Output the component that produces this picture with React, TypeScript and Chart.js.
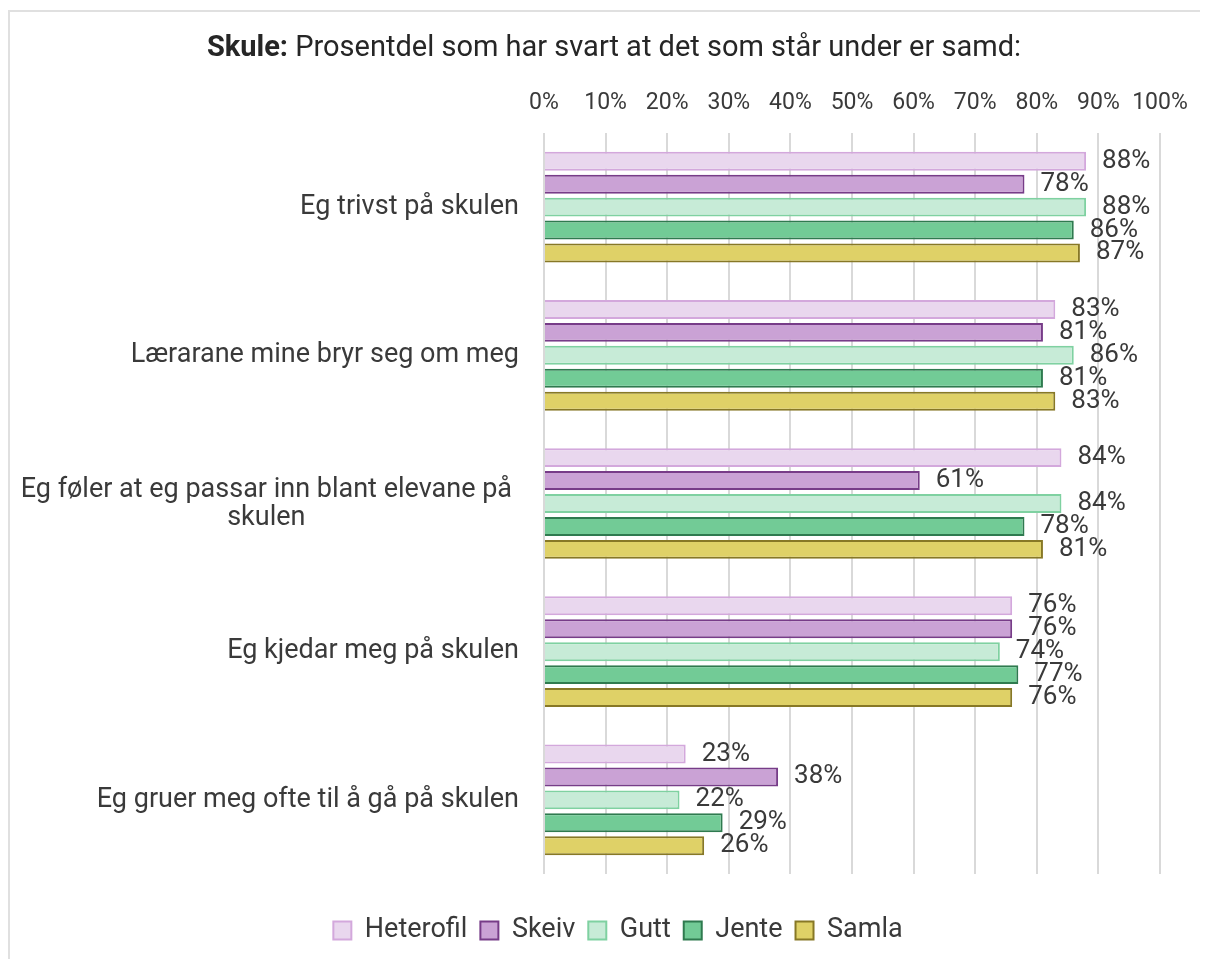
import React, { useEffect, useRef } from "react";
import { Chart, registerables } from "chart.js";

Chart.register(...registerables);

const categories: (string | string[])[] = [
  "Eg trivst på skulen",
  "Lærarane mine bryr seg om meg",
  ["Eg føler at eg passar inn blant elevane på", "skulen"],
  "Eg kjedar meg på skulen",
  "Eg gruer meg ofte til å gå på skulen",
];

const heterofil = [88, 83, 84, 76, 23];
const skeiv = [78, 81, 61, 76, 38];
const gutt = [88, 86, 84, 74, 22];
const jente = [86, 81, 78, 77, 29];
const samla = [87, 83, 81, 76, 26];

const xTicks = [0, 10, 20, 30, 40, 50, 60, 70, 80, 90, 100];

const titleBold = "Skule:";
const titleRest = " Prosentdel som har svart at det som står under er samd:";

const FONT = "Roboto";
const TEXT = "#3a3a3a";

const titlePlugin = {
  id: "mixedTitle",
  afterDraw(chart: any) {
    const ctx = chart.ctx;
    ctx.save();
    ctx.textBaseline = "middle";
    ctx.fillStyle = "#262626";
    ctx.font = `bold 29px ${FONT}`;
    const wb = ctx.measureText(titleBold).width;
    ctx.font = `29px ${FONT}`;
    const wr = ctx.measureText(titleRest).width;
    const cx = chart.width / 2 + 5;
    const x0 = cx - (wb + wr) / 2;
    const y = 37;
    ctx.textAlign = "left";
    ctx.font = `bold 29px ${FONT}`;
    ctx.fillText(titleBold, x0, y);
    ctx.font = `29px ${FONT}`;
    ctx.fillText(titleRest, x0 + wb, y);
    ctx.restore();
  },
};

const yLabelPlugin = {
  id: "yLabels",
  afterDraw(chart: any) {
    const ctx = chart.ctx;
    const yScale = chart.scales.y;
    const right = chart.chartArea.left - 25;
    ctx.save();
    ctx.font = `27px ${FONT}`;
    ctx.fillStyle = TEXT;
    ctx.textBaseline = "middle";
    categories.forEach((lab, i) => {
      const lines = Array.isArray(lab) ? lab : [lab];
      const y = yScale.getPixelForValue(i);
      const lh = 28;
      if (lines.length === 1) {
        ctx.textAlign = "right";
        ctx.fillText(lines[0], right, y);
      } else {
        const maxW = Math.max(...lines.map((l) => ctx.measureText(l).width));
        const c = right - 7 - maxW / 2;
        ctx.textAlign = "center";
        lines.forEach((l, j) => {
          ctx.fillText(l, c, y + 1 + (j - (lines.length - 1) / 2) * lh);
        });
      }
    });
    ctx.restore();
  },
};

const valueLabelPlugin = {
  id: "valueLabels",
  afterDatasetsDraw(chart: any) {
    const ctx = chart.ctx;
    ctx.save();
    ctx.font = `26px ${FONT}`;
    ctx.fillStyle = TEXT;
    ctx.textBaseline = "middle";
    ctx.textAlign = "left";
    chart.data.datasets.forEach((ds: any, di: number) => {
      const meta = chart.getDatasetMeta(di);
      meta.data.forEach((el: any, i: number) => {
        ctx.fillText(`${ds.data[i]}%`, el.x + 16, el.y);
      });
    });
    ctx.restore();
  },
};

export default function App() {
  const ref = useRef<HTMLCanvasElement>(null);
  useEffect(() => {
    if (!ref.current) return;
    const mk = (label: string, data: number[], bg: string, bd: string) => ({
      label,
      data,
      backgroundColor: bg,
      borderColor: bd,
      borderWidth: 2,
      categoryPercentage: 0.774,
      barPercentage: 0.826,
    });
    const chart = new Chart(ref.current, {
      type: "bar",
      data: {
        labels: categories as any,
        datasets: [
          mk("Heterofil", heterofil, "#e9d7ee", "#d3a8dc"),
          mk("Skeiv", skeiv, "#caa2d5", "#773c88"),
          mk("Gutt", gutt, "#c7ebd7", "#7fd1a1"),
          mk("Jente", jente, "#72cb96", "#2f7a4f"),
          mk("Samla", samla, "#dfd167", "#877826"),
        ] as any,
      },
      options: {
        indexAxis: "y",
        responsive: false,
        animation: false,
        layout: { padding: { top: 71, right: 48, left: 66, bottom: 7 } },
        scales: {
          x: {
            position: "top",
            min: 0,
            max: 100,
            afterBuildTicks: (s: any) => {
              s.ticks = xTicks.map((v) => ({ value: v }));
            },
            afterFit: (s: any) => {
              s.height = 50;
            },
            ticks: {
              callback: (v: any) => `${v}%`,
              font: { family: FONT, size: 23 },
              color: TEXT,
              padding: 16,
              maxRotation: 0,
              minRotation: 0,
              autoSkip: false,
            },
            grid: { color: "#d9d9d9", lineWidth: 2, drawTicks: false },
            border: { display: false },
          },
          y: {
            afterFit: (s: any) => {
              s.width = 468;
            },
            ticks: { display: false },
            grid: { display: false },
            border: { display: false },
          },
        },
        plugins: {
          title: { display: false },
          tooltip: { enabled: false },
          legend: {
            position: "bottom",
            title: { display: true, text: " ", padding: 9, font: { size: 10 } },
            labels: {
              font: { family: FONT, size: 27 },
              color: TEXT,
              boxWidth: 18,
              boxHeight: 18,
              padding: 13,
            },
          },
        },
      } as any,
      plugins: [titlePlugin, yLabelPlugin, valueLabelPlugin],
    });
    return () => chart.destroy();
  }, []);
  return (
    <div
      style={{
        position: "relative",
        top: 2,
        borderTop: "2px solid #e0e0e0",
        borderLeft: "2px solid #e0e0e0",
        width: 1198,
        height: 949,
      }}
    >
      <canvas ref={ref} width={1198} height={949} style={{ display: "block" }} />
    </div>
  );
}
